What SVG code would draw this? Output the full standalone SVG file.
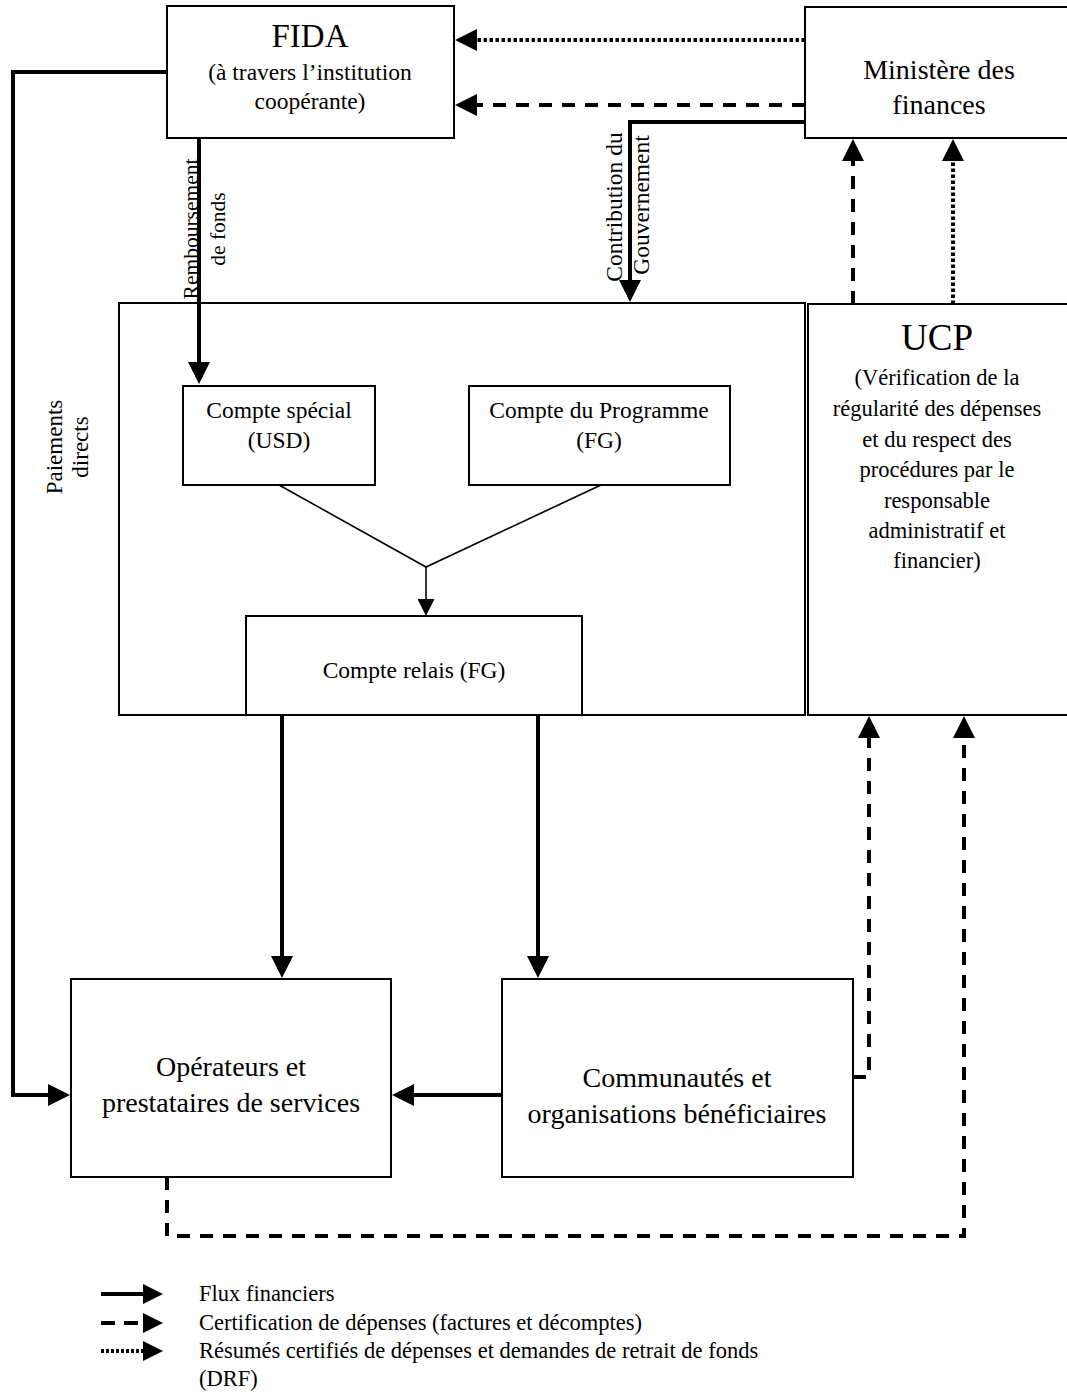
<svg xmlns="http://www.w3.org/2000/svg" width="1067" height="1400" viewBox="0 0 1067 1400">
<defs>
<style>
.box{fill:#fff;stroke:#000;stroke-width:2}
.t{font-family:"Liberation Serif","Times New Roman",serif;fill:#000;text-anchor:middle}
.lg{font-family:"Liberation Serif","Times New Roman",serif;fill:#000;font-size:22.5px}
.solid{fill:none;stroke:#000;stroke-width:4}
.dash{fill:none;stroke:#000;stroke-width:4;stroke-dasharray:13 10}
.dot{fill:none;stroke:#000;stroke-width:4;stroke-dasharray:3.5 2.5}
.thin{fill:none;stroke:#000;stroke-width:1.6}
</style>
<marker id="ah" markerUnits="userSpaceOnUse" markerWidth="22" markerHeight="22" viewBox="0 0 22 22" refX="1" refY="11" orient="auto"><path d="M0,0 L22,11 L0,22 Z" fill="#000"/></marker>
<marker id="ahs" markerUnits="userSpaceOnUse" markerWidth="17" markerHeight="17" viewBox="0 0 17 17" refX="1" refY="8.5" orient="auto"><path d="M0,0 L17,8.5 L0,17 Z" fill="#000"/></marker>
<marker id="ahl" markerUnits="userSpaceOnUse" markerWidth="20" markerHeight="20" viewBox="0 0 20 20" refX="1" refY="10" orient="auto"><path d="M0,0 L20,10 L0,20 Z" fill="#000"/></marker>
</defs>

<g id="fida">
<rect class="box" x="167" y="6" width="287" height="132"/>
<text class="t" x="310" y="47" font-size="33">FIDA</text>
<text class="t" x="310" y="80" font-size="23.5">(à travers l’institution</text>
<text class="t" x="310" y="109" font-size="23.5">coopérante)</text>
</g>

<g id="ministere">
<rect class="box" x="805" y="7" width="280" height="131"/>
<text class="t" x="939" y="79" font-size="28">Ministère des</text>
<text class="t" x="939" y="114" font-size="28">finances</text>
</g>

<g id="comptes">
<rect class="box" x="119" y="303" width="686" height="412"/>
</g>

<g id="ucp">
<rect class="box" x="808" y="304" width="280" height="411"/>
<text class="t" x="937" y="350" font-size="37">UCP</text>
<text class="t" x="937" y="385" font-size="22.5">(Vérification de la</text>
<text class="t" x="937" y="416" font-size="22.5">régularité des dépenses</text>
<text class="t" x="937" y="447" font-size="22.5">et du respect des</text>
<text class="t" x="937" y="477" font-size="22.5">procédures par le</text>
<text class="t" x="937" y="508" font-size="22.5">responsable</text>
<text class="t" x="937" y="538" font-size="22.5">administratif et</text>
<text class="t" x="937" y="568" font-size="22.5">financier)</text>
</g>

<g id="compte-special">
<rect class="box" x="183" y="386" width="192" height="99"/>
<text class="t" x="279" y="418" font-size="23.5">Compte spécial</text>
<text class="t" x="279" y="448" font-size="23.5">(USD)</text>
</g>

<g id="compte-programme">
<rect class="box" x="469" y="386" width="261" height="99"/>
<text class="t" x="599" y="418" font-size="23.5">Compte du Programme</text>
<text class="t" x="599" y="448" font-size="23.5">(FG)</text>
</g>

<g id="compte-relais">
<rect class="box" x="246" y="616" width="336" height="99"/>
<text class="t" x="414" y="678" font-size="23.5">Compte relais (FG)</text>
</g>

<g id="operateurs">
<rect class="box" x="71" y="979" width="320" height="198"/>
<text class="t" x="231" y="1076" font-size="28">Opérateurs et</text>
<text class="t" x="231" y="1112" font-size="28">prestataires de services</text>
</g>

<g id="communautes">
<rect class="box" x="502" y="979" width="351" height="198"/>
<text class="t" x="677" y="1087" font-size="28">Communautés et</text>
<text class="t" x="677" y="1123" font-size="28">organisations bénéficiaires</text>
</g>

<g id="connectors">
<path class="dot" d="M805,40 H476" marker-end="url(#ah)"/>
<path class="dash" d="M805,105 H476" marker-end="url(#ah)"/>
<path class="solid" d="M805,122 H630 V281" marker-end="url(#ah)"/>
<path class="solid" d="M167,72 H13 V1095 H49" marker-end="url(#ah)"/>
<path class="solid" d="M199,138 V363" marker-end="url(#ah)"/>
<path class="thin" d="M279,485 L426,567 L601,485"/>
<path class="thin" d="M426,567 V600" marker-end="url(#ahs)"/>
<path class="solid" d="M282,715 V957" marker-end="url(#ah)"/>
<path class="solid" d="M538,715 V957" marker-end="url(#ah)"/>
<path class="solid" d="M502,1095 H413" marker-end="url(#ah)"/>
<path class="dash" d="M853,1077 H869 V737" marker-end="url(#ah)"/>
<path class="dash" d="M167,1177 V1236 H964 V737" marker-end="url(#ah)"/>
<path class="dash" d="M853,304 V160" marker-end="url(#ah)"/>
<path class="dot" d="M953,304 V160" marker-end="url(#ah)"/>
</g>

<g id="connector-labels">
<text class="t" font-size="21.5" transform="translate(198,229) rotate(-90)">Remboursement</text>
<text class="t" font-size="21.5" transform="translate(225,229) rotate(-90)">de fonds</text>
<text class="t" font-size="23.5" transform="translate(622,207) rotate(-90)">Contribution du</text>
<text class="t" font-size="23.5" transform="translate(649,205) rotate(-90)">Gouvernement</text>
<text class="t" font-size="23" transform="translate(62,447) rotate(-90)">Paiements</text>
<text class="t" font-size="23" transform="translate(88,447) rotate(-90)">directs</text>
</g>

<g id="legend">
<path class="solid" d="M101,1294 H144" marker-end="url(#ahl)"/>
<path fill="none" stroke="#000" stroke-width="4" stroke-dasharray="14 9" d="M101,1323 H144" marker-end="url(#ahl)"/>
<path fill="none" stroke="#000" stroke-width="4" stroke-dasharray="3 2" d="M101,1351 H144" marker-end="url(#ahl)"/>
<text class="lg" x="199" y="1301">Flux financiers</text>
<text class="lg" x="199" y="1330">Certification de dépenses (factures et décomptes)</text>
<text class="lg" x="199" y="1358">Résumés certifiés de dépenses et demandes de retrait de fonds</text>
<text class="lg" x="199" y="1386">(DRF)</text>
</g>
</svg>
